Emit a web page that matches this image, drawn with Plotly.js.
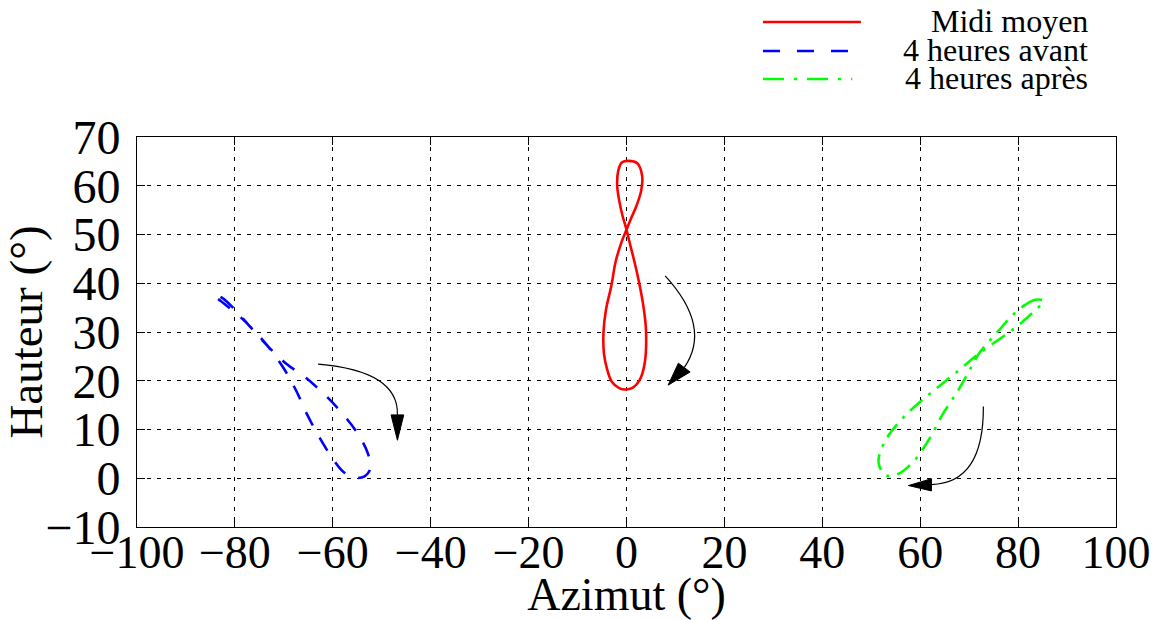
<!DOCTYPE html>
<html>
<head>
<meta charset="utf-8">
<script src="https://cdn.plot.ly/plotly-3.0.1.min.js"></script>
<style>html,body{margin:0;padding:0;background:#fff;}#chart{width:1167px;height:620px;}</style>
</head>
<body>
<div id="chart"></div>
<script>
// ---- data ----
const seriesNames = ['Midi moyen', '4 heures avant', '4 heures après'];
const seriesColors = ['#ff0000', '#0000ff', '#00ff00'];

const midiAz = [0.4, 2.2, 3.2, 3.0, 2.0, 0.8, 0.0, -1.0, -2.2, -3.1, -4.2, -4.7, -4.6, -4.0, -3.0, -1.5, -0.2, 1.3, 2.7, 3.7, 4.0, 3.5, 2.6, 1.6, 0.6, 0.0, -0.8, -1.5, -1.9, -1.7, -0.9, 0.4];
const midiHt = [65.1, 64.6, 62.0, 59.0, 55.8, 53.0, 51.0, 48.5, 44.5, 39.5, 34.5, 30.0, 25.5, 22.5, 19.8, 18.5, 18.2, 18.6, 20.2, 23.5, 30.0, 35.0, 40.0, 44.5, 48.5, 51.0, 53.8, 57.0, 60.0, 63.0, 64.8, 65.1];

const avantAz = [-84.3, -82.6, -80.0, -77.0, -73.2, -69.5, -65.5, -61.5, -57.8, -54.8, -52.8, -52.3, -53.5, -55.5, -57.8, -60.2, -62.8, -65.2, -67.5, -70.0, -73.2, -75.8, -78.8, -81.8, -84.0, -84.3];
const avantHt = [37.8, 37.0, 34.6, 31.2, 27.0, 23.5, 20.6, 17.0, 13.0, 9.0, 5.0, 2.0, 0.4, 0.1, 1.3, 4.3, 8.5, 13.0, 18.0, 22.5, 27.0, 30.0, 33.0, 35.5, 37.3, 37.8];

const apresAz = [85.2, 83.5, 81.5, 79.0, 76.3, 74.0, 72.0, 70.5, 67.8, 64.7, 61.7, 58.5, 55.5, 53.0, 51.5, 52.8, 56.5, 61.8, 67.5, 72.0, 76.0, 79.7, 83.0, 85.2];
const apresHt = [36.4, 36.6, 35.6, 33.6, 30.6, 28.0, 25.6, 22.9, 18.1, 13.3, 7.8, 3.3, 0.9, 0.6, 3.2, 7.6, 12.4, 17.2, 21.8, 25.6, 28.4, 31.1, 34.0, 36.4];

const xTicks = [-100, -80, -60, -40, -20, 0, 20, 40, 60, 80, 100];
const yTicks = [-10, 0, 10, 20, 30, 40, 50, 60, 70];

// curved annotation arrows (data coordinates): curve + arrow head
const arrowCurves = [
  'M 7.9,41.5 Q 17.5,31 11.8,22.7',
  'M -63,23.4 Q -46.5,22 -46.8,13',
  'M 72.9,14.7 Q 73,-1 62.3,-1.3'
];
const arrowHeads = [
  'M 8.5,19.1 L 10.6,23.6 L 13.0,21.8 Z',
  'M -48.1,13 L -45.5,13 L -46.8,7.8 Z',
  'M 57.6,-1.5 L 62.3,-0.1 L 62.3,-2.6 Z'
];

// ---- styles ----
const FONT = 'Liberation Serif';
const dashes = ['solid', '15px,14px', '16px,8px,3px,8px'];
const legendDashes = ['solid', '17px,17px', '21px,10px,3px,10px'];

const xs = [midiAz, avantAz, apresAz];
const ys = [midiHt, avantHt, apresHt];

const traces = xs.map((x, i) => ({
  type: 'scatter', mode: 'lines', x: x, y: ys[i], name: seriesNames[i],
  line: {color: seriesColors[i], width: 2.6, dash: dashes[i], shape: 'spline', smoothing: 1},
  hoverinfo: 'x+y+name'
}));

const shapes = [];
arrowCurves.forEach(p => shapes.push({type: 'path', xref: 'x', yref: 'y', path: p, line: {color: '#000', width: 1.2}}));
arrowHeads.forEach(p => shapes.push({type: 'path', xref: 'x', yref: 'y', path: p, line: {color: '#000', width: 1}, fillcolor: '#000'}));

// manual legend (paper coordinates)
const legY = [1.2949, 1.2205, 1.1487];
const legX1 = [0.7395, 0.7265, 0.7306];
const annotations = [];
seriesNames.forEach((n, i) => {
  shapes.push({type: 'line', xref: 'paper', yref: 'paper', x0: 0.6394, x1: legX1[i], y0: legY[i], y1: legY[i],
    line: {color: seriesColors[i], width: 2.6, dash: legendDashes[i]}});
  annotations.push({xref: 'paper', yref: 'paper', x: 0.9734, y: legY[i] + 0.002, xanchor: 'right', yanchor: 'middle',
    text: n, showarrow: false, font: {family: FONT, size: 32, color: '#000'}});
});

const axisCommon = {
  showline: true, linecolor: '#000', linewidth: 1, mirror: 'ticks',
  ticks: 'inside', ticklen: 8, tickcolor: '#000', tickwidth: 1,
  showgrid: true, gridcolor: '#000', gridwidth: 1, griddash: '4px,6px',
  zeroline: false, tickmode: 'array'
};

const layout = {
  width: 1167, height: 620,
  margin: {l: 137, r: 51, t: 137, b: 93},
  paper_bgcolor: '#fff', plot_bgcolor: '#fff',
  showlegend: false,
  font: {family: FONT, color: '#000'},
  xaxis: Object.assign({}, axisCommon, {
    range: [-100, 100], tickvals: xTicks, ticktext: xTicks.map(v => v < 0 ? '\u2212' + Math.abs(v) : String(v)),
    tickfont: {family: FONT, size: 46, color: '#000'}, ticklabelstandoff: -15,
    title: {text: 'Azimut (°)', font: {family: FONT, size: 46, color: '#000'}, standoff: 12}
  }),
  yaxis: Object.assign({}, axisCommon, {
    range: [-10, 70], tickvals: yTicks, ticktext: yTicks.map(v => v < 0 ? '\u2212' + Math.abs(v) : String(v)),
    tickfont: {family: FONT, size: 48, color: '#000'}, ticklabelstandoff: 6,
    title: {text: 'Hauteur (°)', font: {family: FONT, size: 47, color: '#000'}, standoff: 2}
  }),
  shapes: shapes,
  annotations: annotations
};

Plotly.newPlot('chart', traces, layout, {displayModeBar: false});
</script>
</body>
</html>
